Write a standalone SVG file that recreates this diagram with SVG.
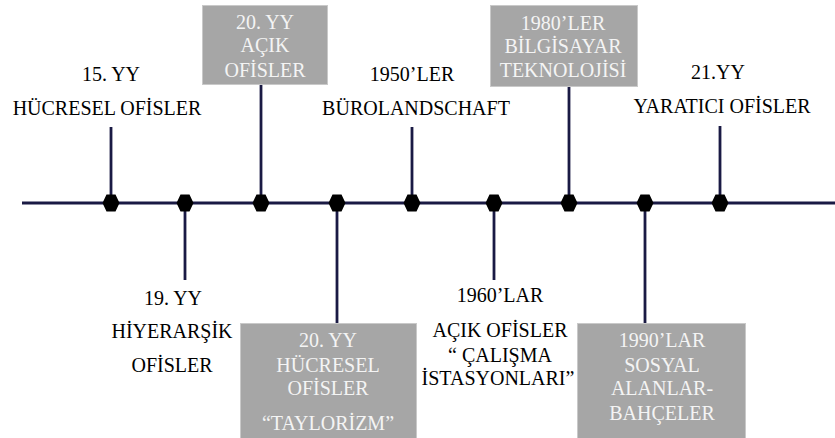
<svg xmlns="http://www.w3.org/2000/svg" xmlns:xlink="http://www.w3.org/1999/xlink" width="835" height="438" viewBox="0 0 835 438">
<style>
text{font-family:'Liberation Serif','Times New Roman',serif;font-size:20px;text-anchor:middle}
.d{fill:#000}
.w{fill:#f4f4f4}
.box{fill:#a6a6a6;stroke:#c9c9c9;stroke-width:1}
.ln{stroke:#1a1a44;stroke-width:2.8;fill:none}
</style>
<defs>
<path id="hex" d="M-8.5,0 L-4.5,-8.5 L4.5,-8.5 L8.5,0 L4.5,8.5 L-4.5,8.5 Z" fill="#000"/>
</defs>
<rect width="835" height="438" fill="#fff"/>
<g id="connectors">
<line class="ln" x1="22" y1="203" x2="835" y2="203"/>
<line class="ln" x1="111" y1="127" x2="111" y2="203"/>
<line class="ln" x1="261" y1="84" x2="261" y2="203"/>
<line class="ln" x1="412" y1="127" x2="412" y2="203"/>
<line class="ln" x1="569" y1="87" x2="569" y2="203"/>
<line class="ln" x1="720" y1="126" x2="720" y2="203"/>
<line class="ln" x1="185" y1="203" x2="185" y2="280"/>
<line class="ln" x1="337" y1="203" x2="337" y2="323"/>
<line class="ln" x1="494" y1="203" x2="494" y2="280"/>
<line class="ln" x1="645" y1="203" x2="645" y2="323"/>
</g>
<g id="dots">
<use xlink:href="#hex" x="111" y="203"/>
<use xlink:href="#hex" x="185" y="203"/>
<use xlink:href="#hex" x="261" y="203"/>
<use xlink:href="#hex" x="337" y="203"/>
<use xlink:href="#hex" x="412" y="203"/>
<use xlink:href="#hex" x="494" y="203"/>
<use xlink:href="#hex" x="569" y="203"/>
<use xlink:href="#hex" x="645" y="203"/>
<use xlink:href="#hex" x="720" y="203"/>
</g>
<g id="n15yy">
<text class="d" x="111" y="81">15. YY</text>
<text class="d" x="107" y="115">HÜCRESEL OFİSLER</text>
</g>
<g id="n20yyacik">
<rect class="box" x="202.5" y="5.5" width="125" height="79"/>
<text class="w" x="265" y="29">20. YY</text>
<text class="w" x="265" y="52">AÇIK</text>
<text class="w" x="265" y="77">OFİSLER</text>
</g>
<g id="n1950">
<text class="d" x="412" y="81">1950’LER</text>
<text class="d" x="416" y="115">BÜROLANDSCHAFT</text>
</g>
<g id="n1980">
<rect class="box" x="490.5" y="5.5" width="147" height="81"/>
<text class="w" x="563" y="30">1980’LER</text>
<text class="w" x="563" y="53">BİLGİSAYAR</text>
<text class="w" x="563" y="77">TEKNOLOJİSİ</text>
</g>
<g id="n21yy">
<text class="d" x="718" y="79">21.YY</text>
<text class="d" x="722" y="113">YARATICI OFİSLER</text>
</g>
<g id="n19yy">
<text class="d" x="173" y="305">19. YY</text>
<text class="d" x="172" y="338">HİYERARŞİK</text>
<text class="d" x="172" y="372">OFİSLER</text>
</g>
<g id="n20yyhucresel">
<rect class="box" x="240.5" y="323.5" width="176" height="120"/>
<text class="w" x="328" y="347">20. YY</text>
<text class="w" x="328" y="372">HÜCRESEL</text>
<text class="w" x="328" y="395">OFİSLER</text>
<text class="w" x="328" y="430">“TAYLORİZM”</text>
</g>
<g id="n1960">
<text class="d" x="500" y="302">1960’LAR</text>
<text class="d" x="500" y="337">AÇIK OFİSLER</text>
<text class="d" x="500" y="362">“ ÇALIŞMA</text>
<text class="d" x="498" y="385">İSTASYONLARI”</text>
</g>
<g id="n1990">
<rect class="box" x="577.5" y="323.5" width="168" height="120"/>
<text class="w" x="662" y="347">1990’LAR</text>
<text class="w" x="662" y="372">SOSYAL</text>
<text class="w" x="662" y="395">ALANLAR-</text>
<text class="w" x="662" y="420">BAHÇELER</text>
</g>
</svg>
